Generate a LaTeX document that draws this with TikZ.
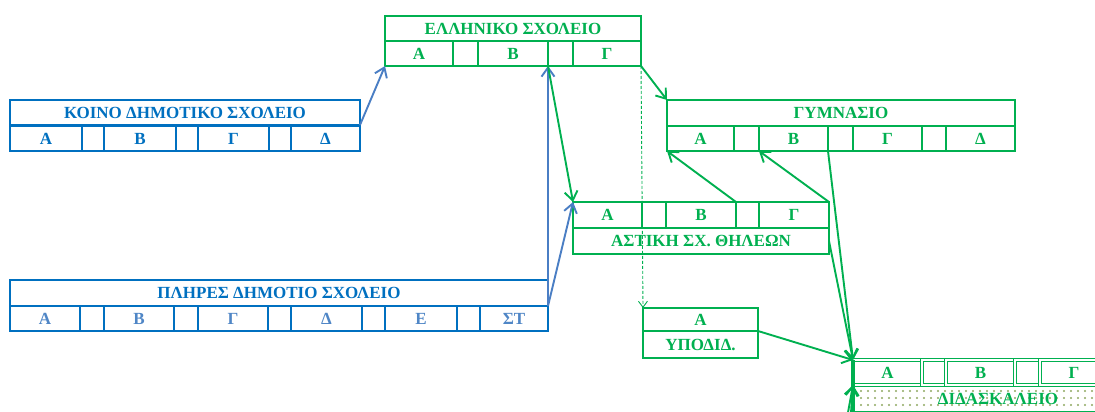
\documentclass[tikz,border=0pt]{standalone}
\usepackage{fontspec}
\setmainfont{Liberation Serif}
\usetikzlibrary{arrows.meta,patterns.meta}
\definecolor{gr}{HTML}{00B050}
\definecolor{bl}{HTML}{0070C0}
\definecolor{blt}{HTML}{4F86C6}
\definecolor{bla}{HTML}{4A7EC4}
\definecolor{dotc}{HTML}{8FA860}
\begin{document}
\begin{tikzpicture}[x=1pt,y=-1pt,
 box/.style={draw, line width=2.6pt, inner sep=0pt, outer sep=0pt, anchor=north west, minimum height=25pt, font=\fontsize{17}{18}\selectfont\bfseries},
 gbox/.style={box, draw=gr, text=gr},
 bbox/.style={box, draw=bl, text=bl},
 garr/.style={draw=gr, line width=1.9pt, -{Straight Barb[length=9pt,width=13pt]}},
 barr/.style={draw=bla, line width=1.9pt, -{Straight Barb[length=9pt,width=13pt]}},
 darr/.style={draw=gr, line width=0.9pt, dash pattern=on 3pt off 2pt, -{Straight Barb[length=6pt,width=9pt]}},
]
\useasboundingbox (0,0) rectangle (1095,412);
\fill[white] (0,0) rectangle (1095,412);
\clip (0,0) rectangle (1095,412);

% ELLHNIKO SXOLEIO
\node[gbox, minimum width=256pt] (ellT) at (385,16) {ΕΛΛΗΝΙΚΟ ΣΧΟΛΕΙΟ};
\foreach \a/\b/\t [count=\i] in {385/453/Α,453/478/{},478/548/Β,548/573/{},573/641/Γ}
  \node[gbox, minimum width={\b pt-\a pt}] (ell\i) at (\a,41) {\t};

% KOINO DHMOTIKO SXOLEIO
\node[bbox, minimum width=350pt] (koT) at (10,100) {ΚΟΙΝΟ ΔΗΜΟΤΙΚΟ ΣΧΟΛΕΙΟ};
\foreach \a/\b/\t [count=\i] in {10/82/Α,82/104/{},104/176/Β,176/198/{},198/269/Γ,269/291/{},291/360/Δ}
  \node[bbox, minimum width={\b pt-\a pt}] (ko\i) at (\a,126) {\t};

% PLHRES DHMOTIO SXOLEIO
\node[bbox, minimum width=538pt, minimum height=26pt] (plT) at (10,280) {ΠΛΗΡΕΣ ΔΗΜΟΤΙΟ ΣΧΟΛΕΙΟ};
\foreach \a/\b/\t [count=\i] in {10/80/Α,80/104/{},104/174/Β,174/198/{},198/268/Γ,268/291/{},291/362/Δ,362/385/{},385/457/Ε,457/480/{},480/548/ΣΤ}
  \node[bbox, text=blt, minimum width={\b pt-\a pt}] (pl\i) at (\a,306) {\t};

% GYMNASIO
\node[gbox, minimum width=348pt, minimum height=26pt] (gymT) at (667,100) {ΓΥΜΝΑΣΙΟ};
\foreach \a/\b/\t [count=\i] in {667/734/Α,734/759/{},759/828/Β,828/853/{},853/922/Γ,922/946/{},946/1015/Δ}
  \node[gbox, minimum width={\b pt-\a pt}] (gym\i) at (\a,126) {\t};

% ASTIKI SX. THLEWN
\foreach \a/\b/\t [count=\i] in {573/642/Α,642/666/{},666/736/Β,736/759/{},759/829/Γ}
  \node[gbox, minimum width={\b pt-\a pt}, minimum height=26pt] (ast\i) at (\a,202) {\t};
\node[gbox, minimum width=256pt, minimum height=26pt] (astT) at (573,228) {ΑΣΤΙΚΗ ΣΧ. ΘΗΛΕΩΝ};

% YPODID.
\node[gbox, minimum width=115pt, minimum height=23pt] (ypA) at (643,308) {Α};
\node[gbox, minimum width=115pt, minimum height=27pt] (ypT) at (643,331) {ΥΠΟΔΙΔ.};

% DIDASKALEIO
\node[gbox, minimum width=290pt, minimum height=27pt, pattern={Dots[distance=7pt,radius=1.1pt]}, pattern color=dotc] (didT) at (853,385) {ΔΙΔΑΣΚΑΛΕΙΟ};
\foreach \a/\b/\t [count=\i] in {853/922/Α,922/946/{},946/1015/Β,1015/1040/{},1040/1108/Γ,1108/1135/{}}
  \node[gbox, line width=1.1pt, double=white, double distance=1.4pt, minimum width={\b pt-\a pt}] (did\i) at (\a,360) {\t};
\draw[gr, line width=3.5pt] (did1.north west) -- (didT.south west);

% connectors
\coordinate (b1) at (843,440);
\coordinate (b2) at (849,440);
\draw[barr] (koT.south east) -- (ell1.south west);
\draw[barr] (plT.south east) -- (ell3.south east);
\draw[barr] (plT.south east) -- (ast1.north west);
\draw[garr] (ell3.south east) -- (ast1.north west);
\draw[garr] (ell5.south east) -- (gymT.north west);
\draw[darr] (ell5.south east) -- (ypA.north west);
\draw[garr] (ast3.north east) -- (gym1.south west);
\draw[garr] (ast5.north east) -- (gym3.south west);
\draw[garr] (gym3.south east) -- (did1.north west);
\draw[garr] (astT.east) -- (did1.north west);
\draw[garr] (ypA.south east) -- (did1.north west);
\draw[garr] (b1) -- (didT.north west);
\draw[garr] (b2) -- (didT.north west);
\end{tikzpicture}
\end{document}
